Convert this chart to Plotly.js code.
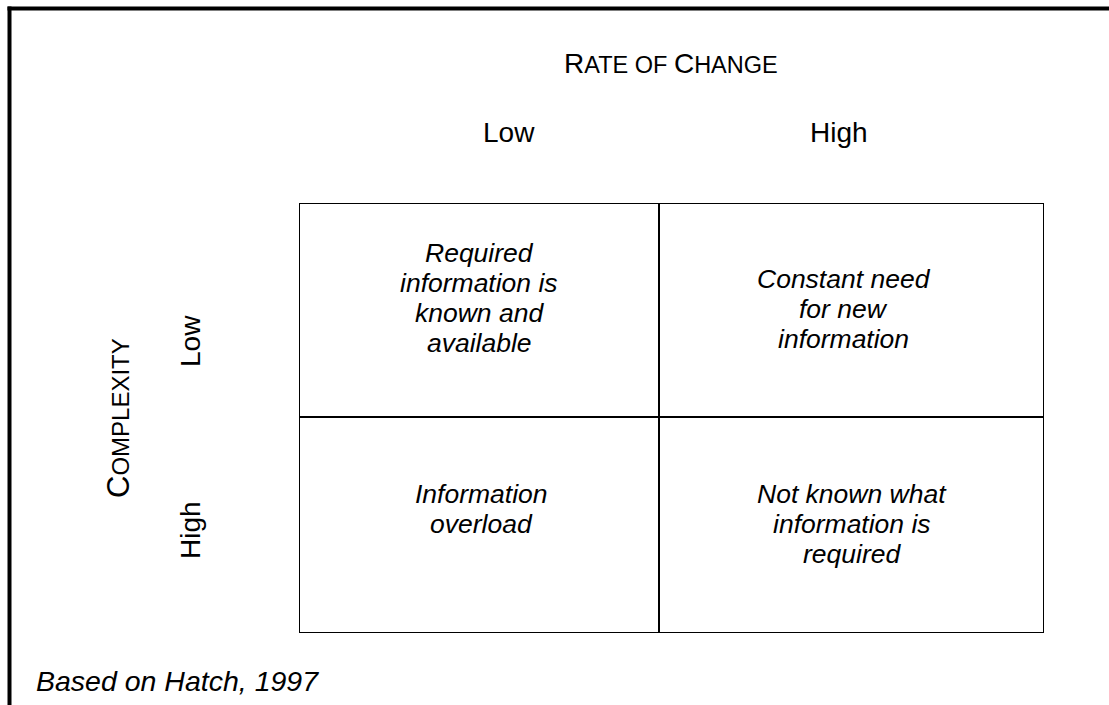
<!DOCTYPE html>
<html>
<head>
<meta charset="utf-8">
<script src="https://cdn.plot.ly/plotly-3.0.1.min.js"></script>
<style>html,body{margin:0;padding:0;background:#fff;}#chart{width:1109px;height:705px;}</style>
</head>
<body>
<div id="chart"></div>
<script>
// ---- data ----
const columns = ["Low", "High"];          // rate of change
const rows = ["Low", "High"];             // complexity
const xTitle = "R<span style='font-size:23.5px'>ATE OF </span>C<span style='font-size:23.5px'>HANGE</span>";
const yTitle = "C<span style='font-size:24px'>OMPLEXITY</span>";
const cellLines = [
  // [col, row, lines]
  [0, 0, ["Required", "information is", "known and", "available"]],
  [1, 0, ["Constant need", "for new", "information"]],
  [0, 1, ["Information", "overload"]],
  [1, 1, ["Not known what", "information is", "required"]]
];
const footnote = "Based on Hatch, 1997";

// ---- layout constants (pixels) ----
const W = 1109, H = 705;
const M = {l: 299, r: 65, t: 203, b: 72};
const colEdgesPx = [0, 360, 745];   // relative to plot left
const rowEdgesPx = [0, 214, 430];   // relative to plot top
const firstLineOffset = [[50, 77], [76, 77]]; // [col][row] px from cell top
const cellXShift = [[0, 2], [-8, 0]];          // [col][row]
const lineGap = 30;
const colLabelShift = [30, -13];
const rowLabelShift = [-31, -5];
const FONT = "Arial, 'Liberation Sans', sans-serif";

const pw = W - M.l - M.r, ph = H - M.t - M.b;
const px2paperX = p => (p - M.l) / pw;
const px2paperY = p => (H - M.b - p) / ph;

const annotations = [];
const shapes = [];
const cx = c => (colEdgesPx[c] + colEdgesPx[c + 1]) / 2;
const cy = r => (rowEdgesPx[r] + rowEdgesPx[r + 1]) / 2;

// grid cells
for (let c = 0; c < columns.length; c++) {
  for (let r = 0; r < rows.length; r++) {
    shapes.push({type: "rect", xref: "x", yref: "y",
      x0: colEdgesPx[c], x1: colEdgesPx[c + 1], y0: rowEdgesPx[r], y1: rowEdgesPx[r + 1],
      line: {color: "#000", width: 2}, fillcolor: "rgba(0,0,0,0)"});
  }
}
// cell texts
cellLines.forEach(([c, r, lines]) => {
  lines.forEach((t, i) => {
    annotations.push({xref: "x", yref: "y", x: cx(c), y: rowEdgesPx[r], text: "<i>" + t + "</i>",
      showarrow: false, xanchor: "center", yanchor: "middle",
      xshift: cellXShift[c][r],
      yshift: -(firstLineOffset[c][r] + i * lineGap),
      font: {family: FONT, size: 26.5, color: "#000"}});
  });
});
// column labels
columns.forEach((t, c) => {
  annotations.push({xref: "x", yref: "y", x: cx(c), y: 0, text: t, showarrow: false,
    xanchor: "center", yanchor: "middle", yshift: 71, xshift: colLabelShift[c],
    font: {family: FONT, size: 28, color: "#000"}});
});
// row labels
rows.forEach((t, r) => {
  annotations.push({xref: "x", yref: "y", x: 0, y: cy(r), text: t, showarrow: false,
    textangle: -90, xanchor: "center", yanchor: "middle", xshift: -109, yshift: rowLabelShift[r],
    font: {family: FONT, size: 28, color: "#000"}});
});
// axis titles
annotations.push({xref: "x", yref: "y", x: colEdgesPx[1], y: 0, text: xTitle, showarrow: false,
  xanchor: "center", yanchor: "middle", xshift: 12, yshift: 140,
  font: {family: FONT, size: 28, color: "#000"}});
annotations.push({xref: "x", yref: "y", x: 0, y: rowEdgesPx[1], text: yTitle, showarrow: false,
  textangle: -90, xanchor: "center", yanchor: "middle", xshift: -181, yshift: -1,
  font: {family: FONT, size: 31, color: "#000"}});
// footnote
annotations.push({xref: "paper", yref: "paper", x: px2paperX(34), y: px2paperY(681), text: "<i>" + footnote + "</i>",
  showarrow: false, xanchor: "left", yanchor: "middle",
  font: {family: FONT, size: 28.5, color: "#000"}});

// frame (top + left)
shapes.push({type: "line", xref: "paper", yref: "paper", x0: px2paperX(7.5), x1: px2paperX(1112), y0: px2paperY(8.5), y1: px2paperY(8.5),
  line: {color: "#000", width: 4}});
shapes.push({type: "line", xref: "paper", yref: "paper", x0: px2paperX(9.5), x1: px2paperX(9.5), y0: px2paperY(6.5), y1: px2paperY(710),
  line: {color: "#000", width: 4}});

const layout = {
  width: W, height: H, margin: M,
  paper_bgcolor: "#fff", plot_bgcolor: "#fff",
  showlegend: false,
  xaxis: {range: [0, pw], visible: false, fixedrange: true},
  yaxis: {range: [ph, 0], visible: false, fixedrange: true},
  shapes: shapes, annotations: annotations
};
Plotly.newPlot("chart", [{x: [], y: [], type: "scatter", mode: "markers", hoverinfo: "skip"}], layout,
  {displayModeBar: false, staticPlot: true});
</script>
</body>
</html>
